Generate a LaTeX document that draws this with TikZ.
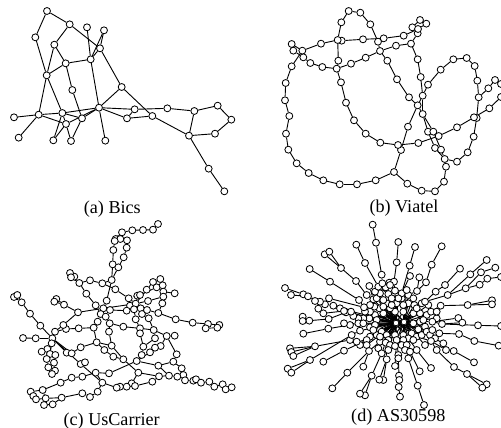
\documentclass[tikz,border=0pt]{standalone}
\usepackage{fontspec}
\setmainfont{Liberation Serif}
\usetikzlibrary{backgrounds}
\tikzset{
  vx/.style={circle,draw=black,fill=white,line width=0.62pt,minimum size=5.2pt,inner sep=0pt},
  hubvx/.style={circle,draw=black,fill=white,line width=0.5pt,minimum size=4.2pt,inner sep=0pt},
  lnk/.style={draw=black,line width=0.68pt},
  figcap/.style={inner sep=0pt,font=\fontsize{13.6}{16}\selectfont}
}
\begin{document}
\begin{tikzpicture}[x=0.25pt,y=-0.25pt]
\useasboundingbox (0,0) rectangle (1503,1284);
% (a) Bics
\begin{scope}
\foreach \n/\x/\y in {1/141/33,2/209/73,3/106/112,4/261/82,5/312/91,6/163/134,7/300/145,8/272/178,9/197/190,10/140/226,11/365/261,12/217/270,13/297/323,14/116/344,15/42/352,16/187/339,17/246/355,18/198/372,19/56/413,20/160/421,21/213/423,22/316/422,23/404/328,24/381/355,25/457/348,26/502/325,27/583/333,28/653/317,29/694/359,30/645/401,31/567/407,32/626/506,33/673/574}
  \node[vx] (a\n) at (\x,\y) {};
\begin{scope}[on background layer]
\foreach \p/\q in {1/2,1/3,2/6,2/7,3/10,4/8,5/8,5/7,6/10,10/14,6/9,7/8,7/11,8/9,8/13,9/10,9/12,10/16,12/17,11/13,11/25,25/31,13/17,13/18,13/22,13/23,13/24,14/16,16/13,14/15,14/19,14/18,16/18,16/20,18/20,18/21,17/21,16/17,23/24,24/25,23/26,26/27,27/28,28/29,29/30,30/31,27/31,31/32,32/33}
  \draw[lnk] (a\p) -- (a\q);
\end{scope}
\node[figcap] (capa) at (337,628) {(a) Bics};
\end{scope}
% (b) Viatel
\begin{scope}[shift={(810,0)}]
\foreach \n/\x/\y in {1/65/132,2/70/152,3/97/152,4/100/172,5/121/189,6/157/201,7/200/206,8/243/191,9/287/173,10/330/153,11/378/137,12/423/131,13/443/100,14/469/71,15/450/60,16/427/82,17/444/87,18/401/107,19/341/115,20/324/125,21/279/118,22/215/122,23/203/120,24/153/131,25/214/67,26/236/33,27/271/38,28/301/73,29/352/182,30/381/238,31/417/292,32/443/316,33/65/199,34/47/249,35/45/301,36/58/348,37/48/401,38/55/449,39/80/490,40/116/519,41/160/541,42/209/553,43/261/553,44/317/541,45/372/516,46/393/450,47/414/380,48/458/287,49/474/254,50/512/209,51/550/178,52/590/174,53/614/198,54/622/242,55/626/292,56/620/354,57/611/410,58/593/457,59/561/485,60/524/477,61/412/551,62/455/572,63/495/574,64/522/545,65/528/500,66/443/178,67/452/231,68/458/342,69/474/395,70/490/395,71/506/408,72/495/444,73/513/449,74/205/182,75/213/247,76/228/308,77/252/361,78/287/401,79/331/428,80/384/435,81/445/429,82/561/382,83/612/352,84/658/325,85/693/291,86/655/265,87/675/240,88/693/252}
  \node[vx] (b\n) at (\x,\y) {};
\begin{scope}[on background layer]
\foreach \p/\q in {1/3,2/4,3/4,4/5,5/6,6/7,7/8,8/9,9/10,10/11,11/12,12/13,13/17,17/14,14/15,15/16,16/13,18/17,18/19,19/21,21/22,22/23,23/24,24/3,23/25,25/26,26/27,27/28,28/20,20/10,10/29,29/30,30/31,31/32,32/68,68/70,70/73,73/60,68/69,69/72,72/60,71/70,23/74,74/7,7/75,75/76,76/77,77/78,78/79,79/80,80/81,81/71,71/82,82/83,83/84,84/85,83/56,3/33,33/34,34/35,35/36,36/37,37/38,38/39,39/40,40/41,41/42,42/43,43/44,44/45,45/46,46/47,47/32,32/48,48/49,49/50,50/51,51/52,52/53,53/54,54/55,55/56,56/57,57/58,58/59,59/60,60/65,65/64,64/63,63/62,62/61,61/45,12/66,66/67,67/48,48/68,55/86,86/87,87/88,46/80}
  \draw[lnk] (b\p) -- (b\q);
\end{scope}
\node[figcap] (capb) at (402,625) {(b) Viatel};
\end{scope}
% (c) UsCarrier
\begin{scope}[shift={(0,645)}]
\foreach \n/\x/\y in {1/474/27,2/459/44,3/429/45,4/397/46,5/366/52,6/347/72,7/361/72,8/381/76,9/380/98,10/340/105,11/371/127,12/338/148,13/355/157,14/335/195,15/307/205,16/270/196,17/238/204,18/223/185,19/210/174,20/213/187,21/346/223,22/259/236,23/287/271,24/320/257,25/310/280,26/330/285,27/302/297,28/317/305,29/293/320,30/329/325,31/327/350,32/370/335,33/281/338,34/236/340,35/198/342,36/190/330,37/234/292,38/192/269,39/169/252,40/163/260,41/42/246,42/52/240,43/65/262,44/90/296,45/121/332,46/165/350,47/157/370,48/107/370,49/69/369,50/290/382,51/335/392,52/386/250,53/390/272,54/407/266,55/412/242,56/420/240,57/440/224,58/459/201,59/481/192,60/470/217,61/488/211,62/490/230,63/490/245,64/524/235,65/444/258,66/487/265,67/380/287,68/422/280,69/402/283,70/426/297,71/441/285,72/475/294,73/527/313,74/407/313,75/446/310,76/420/340,77/461/345,78/420/355,79/465/370,80/500/363,81/524/362,82/482/393,83/465/398,84/450/412,85/430/395,86/425/420,87/530/418,88/370/433,89/410/438,90/520/440,91/475/452,92/545/460,93/415/473,94/550/480,95/507/482,96/477/484,97/532/485,98/555/496,99/457/500,100/580/497,101/588/493,102/603/503,103/628/500,104/643/515,105/668/508,106/677/523,107/695/517,108/395/505,109/405/513,110/380/515,111/360/515,112/350/518,113/307/503,114/327/475,115/287/473,116/247/485,117/215/488,118/182/503,119/128/525,120/92/530,121/100/543,122/108/553,123/137/550,124/132/570,125/158/568,126/185/548,127/247/535,128/270/546,129/293/530,130/155/385,131/142/402,132/125/410,133/150/417,134/166/420,135/140/432,136/162/443,137/145/457,138/165/467,139/156/477,140/200/413,141/215/415,142/242/397,143/313/405,144/340/425,145/242/447,146/255/442,147/578/323,148/624/327,149/658/330,150/652/338,151/617/340,152/344/78}
  \node[vx] (c\n) at (\x,\y) {};
\begin{scope}[on background layer]
\foreach \p/\q in {1/2,2/3,3/4,4/5,5/6,5/7,7/8,8/9,9/11,11/13,13/14,6/152,152/10,10/12,12/14,14/15,15/16,16/17,17/18,18/19,17/20,14/24,24/25,17/22,22/23,23/27,15/21,21/52,52/54,25/27,25/26,27/29,27/28,28/30,29/33,33/34,34/35,35/46,36/37,36/46,37/38,38/39,38/40,37/25,30/32,32/76,76/77,76/78,78/85,30/31,31/51,51/88,33/50,41/43,42/43,43/44,44/45,45/47,47/48,48/49,47/46,47/130,130/131,131/132,130/133,133/135,135/137,137/139,139/138,138/136,136/134,134/131,47/141,47/140,140/141,141/142,142/50,50/143,143/144,144/88,50/51,47/145,145/146,145/113,119/118,118/117,117/116,116/115,115/114,114/89,89/84,84/83,83/82,82/80,80/77,77/79,79/85,85/86,86/89,80/81,80/87,87/90,90/91,91/89,90/92,92/94,91/95,88/93,93/96,96/95,95/97,97/94,94/98,98/100,100/101,101/102,102/103,103/104,104/105,105/106,106/107,93/108,108/109,96/99,99/109,109/110,110/111,111/112,112/113,115/113,113/129,129/128,128/127,127/126,126/125,125/124,124/123,123/119,119/120,120/121,121/122,122/123,123/126,54/55,54/57,55/56,57/58,58/59,59/61,61/62,62/63,63/66,66/72,72/73,73/147,147/148,148/149,149/150,150/151,148/151,56/60,60/61,62/64,65/63,54/65,53/54,53/69,69/74,74/76,69/71,68/71,71/72,54/68,68/70,70/75,75/77,25/54,26/67,67/69}
  \draw[lnk] (c\p) -- (c\q);
\end{scope}
\node[figcap] (capc) at (335,618) {(c) UsCarrier};
\end{scope}
% (d) AS30598
\begin{scope}[shift={(810,645)}]
\node[hubvx] (dh1) at (378,324) {};
\node[hubvx] (dh2) at (402,321) {};
\foreach \n/\x/\y/\r in {1/375/290/h1,2/400/290/h2,3/360/280/h1,4/340/295/h1,5/350/265/h1,6/380/265/h1,7/395/250/h2,8/415/265/h2,9/433/270/h2,10/430/295/h2,11/450/295/h2,12/328/280/h1,13/313/275/h1,14/315/300/h1,15/298/310/h1,16/320/315/h1,17/280/310/h1,18/265/310/h1,19/265/325/h1,20/300/337/h1,21/330/345/h1,22/270/347/h1,23/320/360/h1,24/335/350/h1,25/300/365/h1,26/290/375/h1,27/350/360/h1,28/375/360/h1,29/400/360/h2,30/425/355/h2,31/440/365/h2,32/415/370/h2,33/355/375/h1,34/380/375/h1,35/400/375/h2,36/330/380/h1,37/347/383/h1,38/330/365/h1,39/430/325/h2,40/450/320/h2,41/445/343/h2,42/465/335/h2,43/470/300/h2,44/375/227/h1,45/395/235/h2,46/415/240/h2,47/355/237/h1,48/310/253/h1,
201/340/275/h1,202/365/270/h1,203/300/290/h1,204/285/290/h1,205/280/325/h1,206/315/330/h1,207/310/345/h1,208/360/390/h1,209/375/393/h1,210/395/390/h2,211/410/390/h2,212/430/375/h2,213/455/360/h2,214/470/350/h2,215/460/315/h2,216/440/280/h2,217/400/270/h2,218/385/250/h1,219/365/250/h1,220/340/255/h1,221/320/250/h1,222/330/235/h1,223/315/230/h1,224/300/270/h1,225/455/265/h2,226/475/270/h2,227/430/250/h2,228/410/225/h2,229/325/400/h1,230/355/405/h1,231/405/405/h2,232/290/390/h1,233/270/390/h1,234/465/390/h2,235/480/360/h2,236/495/370/h2,237/225/290/h1,238/250/303/h1,239/210/280/h1,240/500/310/h2,241/520/385/h2,
51/465/260/9,50/497/230/51,52/525/210/50,53/570/161/52,54/533/240/51,55/601/178/54,56/650/135/55,57/587/220/54,58/633/172/57,59/676/158/58,60/629/209/57,61/652/191/60,62/693/186/61,64/483/290/11,65/512/272/64,66/593/270/65,67/666/256/66,68/666/268/66,69/500/290/43,70/487/320/40,71/516/327/70,72/624/331/71,73/693/333/72,74/565/309/70,75/577/323/71,76/487/345/42,77/508/355/76,78/567/357/77,79/613/378/78,80/686/392/79,81/483/378/31,83/528/405/81,84/551/408/83,63/612/442/84,85/500/405/81,86/552/456/85,87/591/477/86,88/650/508/87,89/637/518/87,90/440/405/32,91/483/459/90,92/420/410/35,93/449/469/92,94/415/430/35,95/443/512/94,96/462/570/95,97/385/420/34,98/385/430/97,99/375/453/34,100/387/482/98,101/388/495/100,102/386/516/101,103/390/545/102,104/350/433/37,105/340/495/104,106/328/494/104,107/335/415/37,108/305/482/107,109/285/541/108,110/270/536/108,111/297/408/36,112/232/473/111,113/187/520/112,114/280/455/111,115/222/407/26,116/160/440/115,117/260/380/26,118/240/375/117,119/135/394/118,120/60/400/119,121/64/411/119,122/70/423/119,123/245/360/22,124/120/435/123,125/53/461/124,126/64/473/124,127/240/330/19,128/175/341/127,129/100/356/128,130/228/292/18,131/176/312/130,132/118/317/131,133/98/305/132,134/98/318/132,135/222/325/19,136/243/290/18,137/222/288/136,138/190/272/137,139/160/295/137,140/165/268/138,141/150/260/140,142/135/258/141,143/100/238/142,144/45/219/143,145/114/244/141,146/63/240/145,147/145/281/139,149/282/277/13,150/267/255/149,151/180/200/150,152/119/162/151,153/177/250/149,154/290/240/48,155/258/198/154,156/213/159/155,157/164/118/156,158/178/110/156,161/347/217/47,162/325/215/47,163/337/205/47,164/358/203/44,165/372/200/44,166/360/210/44,167/298/213/48,168/335/179/163,169/318/83/168,170/308/29/169,171/285/144/162,172/259/89/171,173/380/142/165,174/385/81/173,175/419/152/45,176/435/96/175,177/420/183/45,178/441/228/46,179/448/187/178,180/468/202/178,181/485/149/180,182/515/94/181}
{
  \node[vx] (d\n) at (\x,\y) {};
  \begin{scope}[on background layer]
    \draw[lnk] (d\n) -- (d\r);
  \end{scope}
}
\begin{scope}[on background layer]
\foreach \p/\q in {h1/h2,h1/10,h1/39,h1/40,h1/41,h1/30,h1/29,h1/2,h1/11,h1/215,h1/213,h1/32,h2/1,h2/3,h2/4,h2/14,h2/16,h2/21,h2/24,h2/27,h2/28,h2/34,h2/206,h2/20}
  \draw[lnk] (d\p) -- (d\q);
\end{scope}
\node[figcap] (capd) at (385,605) {(d) AS30598};
\end{scope}
\end{tikzpicture}
\end{document}
